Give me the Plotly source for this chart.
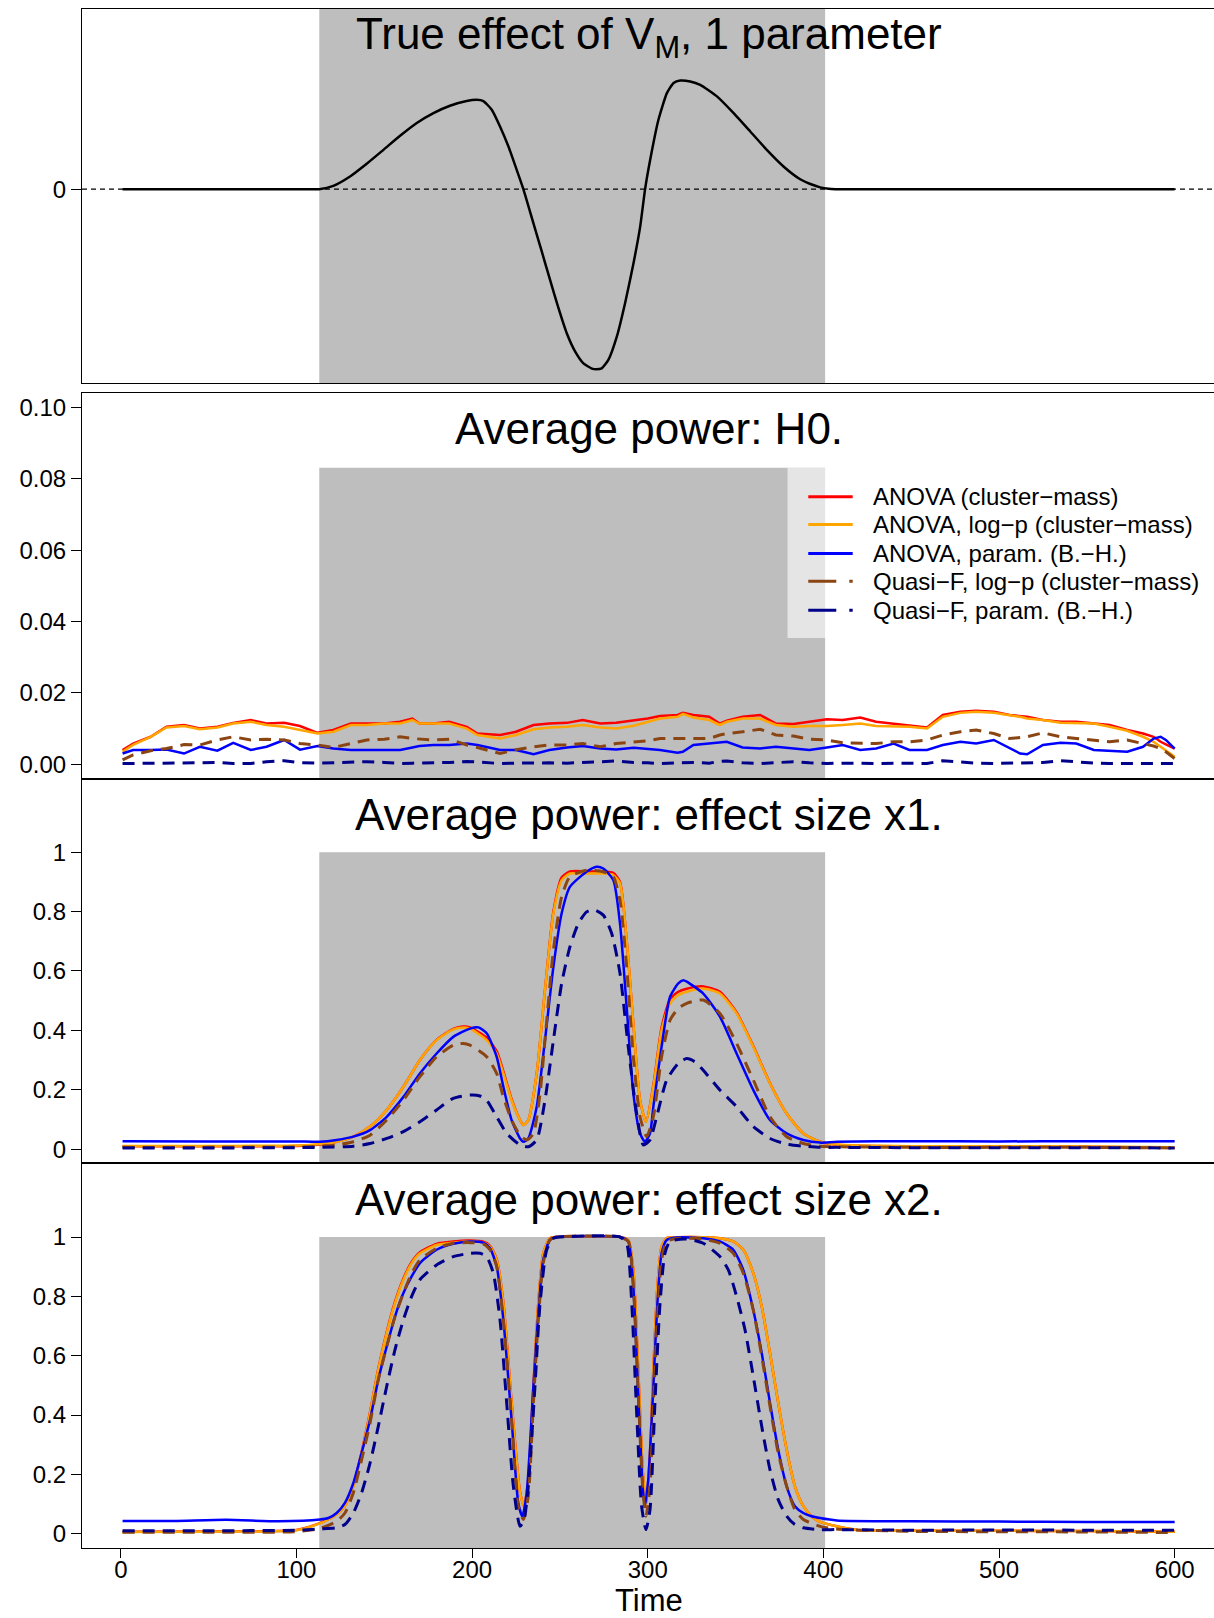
import plotly.graph_objects as go

FONT = "Liberation Sans, Arial, Helvetica, sans-serif"

# ---------------- data ----------------
SHADE = [113, 401]          # time window of the true effect

# Panel 1: true effect of V_M (arbitrary units, min = -1)
P1_T = [1, 50, 100, 113, 121, 130.5, 140, 149.5, 159, 168.5, 178, 187.4, 196.9, 202.6, 206.4, 211.2,
        215.9, 220.7, 225.4, 229.2, 234.9, 239.7, 244.4, 249.2, 253.9, 258.7, 263.4, 268.2, 270.6,
        273.8, 277.6, 282.4, 287.1, 291.9, 295.7, 298.5, 301.4, 306.1, 310.9, 314.7, 318.5, 324.2,
        329.9, 339.4, 348.9, 358.4, 367.8, 377.3, 386.8, 393, 398.2, 403, 407, 415, 450, 500, 600]
P1_V = [0, 0, 0, 0, 0.018, 0.070, 0.141, 0.218, 0.296, 0.367, 0.422, 0.463, 0.489, 0.496, 0.489, 0.441,
        0.348, 0.237, 0.107, 0, -0.189, -0.347, -0.504, -0.661, -0.8, -0.902, -0.967, -0.996, -1.0,
        -0.995, -0.948, -0.819, -0.633, -0.411, -0.208, 0, 0.163, 0.385, 0.533, 0.589, 0.603, 0.598,
        0.579, 0.515, 0.422, 0.32, 0.218, 0.126, 0.055, 0.027, 0.010, 0.002, 0, 0, 0, 0, 0]

# Panel 2: average power under H0
H0_T = [1, 7, 17, 26, 36, 45, 55, 64, 74, 83, 93, 102, 112, 121, 131, 140, 150, 159, 166, 170,
        178, 187, 197, 203, 216, 225, 235, 244, 254, 263, 273, 282, 292, 300, 307, 317, 320, 326, 335, 341,
        345, 354, 364, 373, 383, 392, 402, 411, 421, 430, 440, 449, 459, 468, 478, 487, 497, 506, 512, 516,
        525, 535, 544, 554, 563, 573, 582, 588, 592, 595, 600]
H0_RED = [0.0040, 0.0058, 0.0077, 0.0105, 0.0110, 0.0100, 0.0105, 0.0116, 0.0124, 0.0114,
          0.0116, 0.0107, 0.0088, 0.0096, 0.0114, 0.0114, 0.0114, 0.0119, 0.0128, 0.0114,
          0.0114, 0.0119, 0.0105, 0.0086, 0.0082, 0.0091, 0.0110, 0.0114, 0.0116, 0.0124,
          0.0114, 0.0116, 0.0122, 0.0128, 0.0135, 0.0138, 0.0144, 0.0138, 0.0133, 0.0114,
          0.0122, 0.0133, 0.0138, 0.0114, 0.0113, 0.0119, 0.0126, 0.0124, 0.0131, 0.0119,
          0.0114, 0.0110, 0.0103, 0.0138, 0.0147, 0.0150, 0.0147, 0.0138, 0.0135, 0.0133,
          0.0124, 0.0119, 0.0119, 0.0114, 0.0110, 0.0096, 0.0086, 0.0077, 0.0063, 0.0056, 0.0044]
H0_ORANGE = [0.0035, 0.0054, 0.0077, 0.0103, 0.0107, 0.0098, 0.0103, 0.0114, 0.0119, 0.0110,
             0.0105, 0.0096, 0.0086, 0.0091, 0.0110, 0.0110, 0.0114, 0.0114, 0.0124, 0.0114,
             0.0114, 0.0114, 0.0100, 0.0082, 0.0072, 0.0082, 0.0098, 0.0103, 0.0105, 0.0110,
             0.0103, 0.0100, 0.0108, 0.0118, 0.0128, 0.0133, 0.0141, 0.0131, 0.0124, 0.0110,
             0.0119, 0.0128, 0.0128, 0.0110, 0.0105, 0.0107, 0.0107, 0.0110, 0.0114, 0.0107,
             0.0105, 0.0105, 0.0100, 0.0133, 0.0144, 0.0147, 0.0144, 0.0138, 0.0133, 0.0128,
             0.0124, 0.0116, 0.0116, 0.0114, 0.0105, 0.0094, 0.0077, 0.0063, 0.0049, 0.0038, 0.0021]
H0_BLUE = [0.0030, 0.0040, 0.0040, 0.0041, 0.0030, 0.0049, 0.0038, 0.0060, 0.0040, 0.0049,
           0.0068, 0.0041, 0.0051, 0.0044, 0.0040, 0.0040, 0.0038, 0.0040, 0.0047, 0.0051,
           0.0054, 0.0054, 0.0058, 0.0054, 0.0040, 0.0040, 0.0028, 0.0040, 0.0047, 0.0051,
           0.0044, 0.0041, 0.0046, 0.0043, 0.0040, 0.0032, 0.0035, 0.0054, 0.0058, 0.0060,
           0.0063, 0.0047, 0.0044, 0.0049, 0.0044, 0.0040, 0.0047, 0.0054, 0.0040, 0.0044,
           0.0058, 0.0040, 0.0040, 0.0054, 0.0063, 0.0058, 0.0068, 0.0044, 0.0030, 0.0028,
           0.0054, 0.0060, 0.0058, 0.0040, 0.0038, 0.0035, 0.0049, 0.0072, 0.0077, 0.0068, 0.0044]
H0_BROWN = [0.0012, 0.0026, 0.0038, 0.0044, 0.0055, 0.0054, 0.0068, 0.0077, 0.0068, 0.0070,
            0.0068, 0.0058, 0.0054, 0.0047, 0.0058, 0.0068, 0.0070, 0.0077, 0.0072, 0.0070,
            0.0068, 0.0070, 0.0054, 0.0047, 0.0030, 0.0041, 0.0049, 0.0054, 0.0054, 0.0058,
            0.0049, 0.0058, 0.0063, 0.0066, 0.0072, 0.0072, 0.0070, 0.0070, 0.0072, 0.0082,
            0.0086, 0.0091, 0.0098, 0.0082, 0.0079, 0.0070, 0.0068, 0.0060, 0.0058, 0.0058,
            0.0063, 0.0063, 0.0068, 0.0082, 0.0091, 0.0096, 0.0086, 0.0072, 0.0075, 0.0077,
            0.0088, 0.0077, 0.0072, 0.0068, 0.0063, 0.0068, 0.0058, 0.0051, 0.0044, 0.0035, 0.0016]
H0_NAVY = [0.0002, 0.0002, 0.0003, 0.0002, 0.0003, 0.0004, 0.0005, 0.0002, 0.0002, 0.0007,
           0.0010, 0.0004, 0.0003, 0.0004, 0.0004, 0.0007, 0.0005, 0.0002, 0.0003, 0.0003,
           0.0004, 0.0005, 0.0008, 0.0006, 0.0002, 0.0003, 0.0004, 0.0004, 0.0003, 0.0004,
           0.0007, 0.0009, 0.0005, 0.0004, 0.0002, 0.0004, 0.0005, 0.0005, 0.0003, 0.0008,
           0.0009, 0.0004, 0.0002, 0.0004, 0.0007, 0.0004, 0.0002, 0.0003, 0.0002, 0.0002,
           0.0003, 0.0003, 0.0002, 0.0010, 0.0006, 0.0003, 0.0002, 0.0003, 0.0002, 0.0003,
           0.0005, 0.0010, 0.0006, 0.0003, 0.0002, 0.0002, 0.0003, 0.0002, 0.0002, 0.0002, 0.0002]

# Panel 3: effect size x1
X1_RED_T = [1, 50, 100, 113.4, 122.9, 132.4, 141.9, 151.4, 160.9, 170.3, 179.8, 189.3, 195.0, 198.8,
            208.3, 214.0, 217.8, 222.5, 227.3, 229.2, 232.0, 236.8, 241.5, 246.3, 251.0, 255.7, 265.2,
            274.7, 280.4, 284.2, 288.0, 291.8, 295.6, 299.0, 303.2, 307.9, 312.7, 317.4, 322.2, 331.6,
            341.1, 350.6, 360.1, 369.6, 379.1, 388.6, 398.1, 407.6, 450, 500, 550, 600]
X1_RED = [0.010, 0.010, 0.011, 0.016, 0.025, 0.042, 0.076, 0.132, 0.210, 0.300, 0.368, 0.405, 0.413, 0.410,
          0.375, 0.330, 0.262, 0.168, 0.098, 0.081, 0.098, 0.255, 0.536, 0.800, 0.915, 0.935, 0.935,
          0.935, 0.930, 0.900, 0.704, 0.423, 0.165, 0.092, 0.215, 0.410, 0.505, 0.530, 0.540, 0.548,
          0.530, 0.460, 0.347, 0.222, 0.120, 0.053, 0.025, 0.015, 0.009, 0.009, 0.008, 0.005]
X1_ORANGE_T = X1_RED_T
X1_ORANGE = [0.011, 0.011, 0.012, 0.017, 0.025, 0.042, 0.076, 0.132, 0.210, 0.300, 0.367, 0.403, 0.410, 0.406,
             0.367, 0.322, 0.255, 0.165, 0.098, 0.081, 0.098, 0.255, 0.536, 0.794, 0.906, 0.928, 0.928,
             0.928, 0.923, 0.895, 0.704, 0.423, 0.165, 0.092, 0.210, 0.401, 0.491, 0.519, 0.530, 0.541,
             0.524, 0.457, 0.345, 0.221, 0.120, 0.053, 0.025, 0.016, 0.010, 0.010, 0.009, 0.006]
X1_BLUE_T = [1, 50, 100, 113.4, 122.9, 132.4, 141.9, 151.4, 160.9, 170.3, 179.8, 189.3, 198.8, 203.6,
             208.3, 214.0, 217.8, 222.5, 227.3, 229.2, 232.0, 236.8, 241.5, 246.3, 251.0, 255.7, 265.2,
             270.9, 274.7, 280.4, 284.2, 288.0, 291.8, 295.6, 298.4, 301.3, 303.2, 307.9, 312.7, 317.4,
             320.3, 322.2, 331.6, 341.1, 350.6, 360.1, 369.6, 379.1, 388.6, 398.1, 407.6, 450, 500, 550, 600]
X1_BLUE = [0.027, 0.026, 0.026, 0.025, 0.031, 0.042, 0.064, 0.109, 0.176, 0.255, 0.322, 0.378, 0.406, 0.410,
           0.390, 0.311, 0.210, 0.098, 0.036, 0.025, 0.036, 0.143, 0.367, 0.614, 0.794, 0.883, 0.934,
           0.951, 0.945, 0.906, 0.760, 0.479, 0.188, 0.053, 0.025, 0.053, 0.143, 0.345, 0.513, 0.558,
           0.569, 0.564, 0.524, 0.446, 0.322, 0.199, 0.098, 0.053, 0.031, 0.022, 0.025, 0.027, 0.026, 0.027, 0.027]
X1_BROWN_T = [1, 50, 100, 113.4, 122.9, 132.4, 141.9, 151.4, 160.9, 170.3, 179.8, 189.3, 195.0, 198.8,
              208.3, 214.0, 217.8, 222.5, 227.3, 231.1, 234.9, 238.7, 241.5, 246.3, 251.0, 255.7, 265.2,
              274.7, 280.4, 284.2, 288.0, 291.8, 295.6, 299.4, 303.2, 307.9, 312.7, 317.4, 322.2, 331.6,
              341.1, 350.6, 360.1, 369.6, 379.1, 388.6, 398.1, 407.6, 450, 500, 550, 600]
X1_BROWN = [0.006, 0.006, 0.007, 0.010, 0.014, 0.025, 0.047, 0.098, 0.165, 0.244, 0.311, 0.350, 0.356, 0.350,
            0.311, 0.255, 0.176, 0.098, 0.047, 0.031, 0.053, 0.188, 0.367, 0.670, 0.850, 0.917, 0.939,
            0.934, 0.917, 0.838, 0.614, 0.311, 0.109, 0.042, 0.109, 0.311, 0.434, 0.474, 0.491, 0.502,
            0.457, 0.356, 0.233, 0.109, 0.042, 0.019, 0.010, 0.008, 0.006, 0.006, 0.006, 0.004]
X1_NAVY_T = [1, 50, 100, 113.4, 132.4, 141.9, 151.4, 160.9, 170.3, 179.8, 189.3, 198.8, 204.5, 208.3,
             214.0, 219.7, 227.3, 232.0, 236.8, 241.5, 246.3, 251.0, 255.7, 260.5, 265.2, 269.0, 274.7,
             279.5, 284.2, 288.9, 293.7, 297.5, 301.3, 305.1, 310.8, 317.4, 322.2, 326.9, 331.6, 341.1,
             350.6, 360.1, 369.6, 379.1, 388.6, 398.1, 407.6, 450, 500, 550, 600]
X1_NAVY = [0.004, 0.004, 0.005, 0.006, 0.010, 0.019, 0.036, 0.059, 0.092, 0.132, 0.171, 0.182, 0.179, 0.165,
           0.109, 0.053, 0.014, 0.008, 0.031, 0.165, 0.367, 0.558, 0.681, 0.760, 0.799, 0.807, 0.788,
           0.726, 0.592, 0.345, 0.120, 0.014, 0.031, 0.109, 0.233, 0.289, 0.305, 0.294, 0.266, 0.199,
           0.143, 0.076, 0.036, 0.017, 0.010, 0.006, 0.006, 0.005, 0.005, 0.005, 0.004]

# Panel 4: effect size x2
X2_ORANGE_T = [1, 50, 100, 113.4, 118.2, 122.9, 127.6, 132.4, 137.1, 141.9, 146.6, 151.4, 156.1, 160.9,
               165.6, 170.3, 179.8, 189.3, 198.8, 206.4, 210.2, 214.0, 217.8, 222.5, 227.3, 229.6, 232.0,
               234.9, 237.7, 240.5, 244.3, 248.1, 284.2, 288.9, 291.8, 294.6, 297.1, 299.0, 301.3, 303.2,
               305.5, 307.9, 310.8, 317.4, 331.6, 341.1, 348.7, 354.4, 360.1, 364.9, 369.6, 374.3, 379.1,
               383.8, 388.6, 393.3, 398.1, 407.6, 420, 450, 500, 550, 600]
X2_ORANGE = [0.006, 0.007, 0.012, 0.035, 0.048, 0.065, 0.093, 0.160, 0.272, 0.407, 0.553, 0.676, 0.777, 0.856,
             0.912, 0.945, 0.973, 0.981, 0.985, 0.981, 0.968, 0.923, 0.777, 0.441, 0.138, 0.093, 0.182,
             0.497, 0.777, 0.945, 0.996, 1.0, 1.0, 0.99, 0.889, 0.553, 0.216, 0.093, 0.272, 0.553,
             0.833, 0.968, 0.996, 0.999, 0.999, 0.996, 0.985, 0.957, 0.878, 0.766, 0.609, 0.441, 0.283,
             0.160, 0.093, 0.059, 0.040, 0.025, 0.012, 0.010, 0.010, 0.009, 0.007]
X2_RED_T = X2_ORANGE_T
X2_RED = [0.007, 0.008, 0.013, 0.036, 0.049, 0.066, 0.094, 0.162, 0.275, 0.410, 0.556, 0.680, 0.781, 0.860,
          0.916, 0.949, 0.977, 0.985, 0.988, 0.984, 0.970, 0.925, 0.780, 0.445, 0.140, 0.093, 0.182,
          0.497, 0.777, 0.945, 0.996, 1.0, 1.0, 0.99, 0.889, 0.553, 0.216, 0.093, 0.272, 0.553,
          0.833, 0.968, 0.996, 0.999, 0.999, 0.996, 0.985, 0.957, 0.878, 0.766, 0.609, 0.441, 0.283,
          0.160, 0.093, 0.059, 0.040, 0.025, 0.012, 0.010, 0.010, 0.009, 0.007]
X2_BLUE_T = [1, 30, 60, 90, 113.4, 118.2, 122.9, 127.6, 132.4, 137.1, 141.9, 146.6, 151.4, 156.1,
             160.9, 165.6, 170.3, 179.8, 189.3, 198.8, 206.4, 210.2, 214.0, 217.8, 222.5, 226.3, 228.6,
             231.1, 234.9, 237.7, 240.5, 244.3, 248.1, 284.2, 288.9, 291.8, 294.6, 297.1, 298.4, 300.3,
             303.2, 305.5, 307.9, 310.8, 317.4, 331.6, 341.1, 348.7, 354.4, 360.1, 364.9, 369.6, 374.3,
             379.1, 383.8, 388.6, 393.3, 398.1, 407.6, 450, 500, 550, 600]
X2_BLUE = [0.043, 0.043, 0.047, 0.042, 0.048, 0.053, 0.070, 0.104, 0.171, 0.272, 0.384, 0.519, 0.631, 0.732,
           0.811, 0.867, 0.912, 0.957, 0.977, 0.985, 0.981, 0.962, 0.901, 0.721, 0.384, 0.104, 0.059,
           0.138, 0.497, 0.743, 0.923, 0.990, 1.0, 1.0, 0.985, 0.833, 0.474, 0.160, 0.093, 0.182,
           0.497, 0.777, 0.945, 0.990, 0.999, 0.996, 0.985, 0.957, 0.889, 0.754, 0.609, 0.441, 0.283,
           0.160, 0.093, 0.070, 0.059, 0.053, 0.045, 0.042, 0.041, 0.040, 0.040]
X2_BROWN_T = [1, 50, 100, 113.4, 122.9, 127.6, 132.4, 137.1, 141.9, 146.6, 151.4, 156.1, 160.9, 165.6,
              170.3, 179.8, 189.3, 198.8, 206.4, 210.2, 214.0, 217.8, 222.5, 226.3, 229.2, 232.0, 234.9,
              237.7, 240.5, 244.3, 248.1, 284.2, 288.9, 291.8, 294.6, 297.1, 299.0, 301.3, 303.2, 305.5,
              307.9, 310.8, 317.4, 331.6, 341.1, 348.7, 354.4, 360.1, 364.9, 369.6, 374.3, 379.1, 383.8,
              388.6, 398.1, 407.6, 450, 500, 550, 600]
X2_BROWN = [0.005, 0.005, 0.007, 0.018, 0.042, 0.070, 0.138, 0.250, 0.373, 0.519, 0.631, 0.732, 0.811, 0.878,
            0.923, 0.962, 0.979, 0.981, 0.977, 0.957, 0.901, 0.721, 0.384, 0.093, 0.048, 0.127, 0.441,
            0.721, 0.912, 0.990, 1.0, 1.0, 0.985, 0.833, 0.474, 0.160, 0.059, 0.160, 0.441, 0.721,
            0.923, 0.985, 0.996, 0.993, 0.979, 0.945, 0.878, 0.754, 0.598, 0.430, 0.272, 0.160, 0.081,
            0.048, 0.025, 0.016, 0.008, 0.007, 0.006, 0.004]
X2_NAVY_T = [1, 50, 100, 113.4, 122.9, 127.6, 132.4, 137.1, 141.9, 146.6, 151.4, 156.1, 160.9, 165.6,
             170.3, 179.8, 189.3, 198.8, 204.5, 208.3, 212.1, 215.9, 219.7, 223.5, 227.3, 229.6, 232.0,
             235.8, 238.7, 242.5, 246.3, 250.0, 284.2, 288.0, 290.9, 293.7, 296.5, 299.0, 301.3, 304.1,
             307.0, 309.8, 312.7, 322.2, 331.6, 341.1, 345.9, 350.6, 355.4, 360.1, 364.9, 369.6, 374.3,
             379.1, 383.8, 388.6, 398.1, 407.6, 450, 500, 550, 600]
X2_NAVY = [0.010, 0.010, 0.012, 0.016, 0.020, 0.031, 0.070, 0.138, 0.238, 0.362, 0.497, 0.620, 0.721, 0.800,
           0.856, 0.906, 0.934, 0.945, 0.945, 0.934, 0.878, 0.721, 0.441, 0.160, 0.025, 0.048, 0.160,
           0.497, 0.777, 0.957, 0.996, 1.0, 1.0, 0.979, 0.777, 0.407, 0.093, 0.014, 0.081, 0.441,
           0.777, 0.945, 0.985, 0.993, 0.979, 0.934, 0.889, 0.800, 0.687, 0.530, 0.362, 0.216, 0.115,
           0.059, 0.031, 0.020, 0.014, 0.014, 0.012, 0.013, 0.012, 0.012]

SERIES_NAMES = ["ANOVA (cluster−mass)", "ANOVA, log−p (cluster−mass)", "ANOVA, param. (B.−H.)",
                "Quasi−F, log−p (cluster−mass)", "Quasi−F, param. (B.−H.)"]
SERIES_COLORS = ["#FF0000", "#FFA500", "#0000FF", "#8B4513", "#00008B"]
SERIES_DASH = ["solid", "solid", "solid", "12px,8px", "12px,8px"]
SERIES_WIDTH = [2.5, 2.5, 2.5, 3, 3]

PANEL_TITLES = ["True effect of V<sub>M</sub>, 1 parameter", "Average power: H0.",
                "Average power: effect size x1.", "Average power: effect size x2."]
X_TICKS = [0, 100, 200, 300, 400, 500, 600]
POWER_TICKS = [0, 0.2, 0.4, 0.6, 0.8, 1]
POWER_TICKTEXT = ["0", "0.2", "0.4", "0.6", "0.8", "1"]
H0_TICKS = [0, 0.02, 0.04, 0.06, 0.08, 0.10]

# ---------------- figure ----------------
XR = [-22.09, 622.4]
X_CENTER = 300.5
YR = {1: [-1.076, 1.0], 2: [-0.004, 0.104], 3: [-0.048, 1.248], 4: [-0.048, 1.248]}
DOMAINS = {1: [0.757, 1.0], 2: [0.5, 0.7503], 3: [0.2499, 0.5], 4: [0.0, 0.2499]}

fig = go.Figure()


def ax(k):
    return ("x" if k == 1 else f"x{k}"), ("y" if k == 1 else f"y{k}")


# panel 1
xa, ya = ax(1)
fig.add_trace(go.Scatter(x=P1_T, y=P1_V, mode="lines", xaxis=xa, yaxis=ya, showlegend=False,
                         line=dict(color="black", width=2.5, shape="spline", smoothing=0.5)))

panel_data = {
    2: [(H0_T, H0_RED), (H0_T, H0_ORANGE), (H0_T, H0_BLUE), (H0_T, H0_BROWN), (H0_T, H0_NAVY)],
    3: [(X1_RED_T, X1_RED), (X1_ORANGE_T, X1_ORANGE), (X1_BLUE_T, X1_BLUE), (X1_BROWN_T, X1_BROWN),
        (X1_NAVY_T, X1_NAVY)],
    4: [(X2_RED_T, X2_RED), (X2_ORANGE_T, X2_ORANGE), (X2_BLUE_T, X2_BLUE), (X2_BROWN_T, X2_BROWN),
        (X2_NAVY_T, X2_NAVY)],
}
for k, series in panel_data.items():
    xa, ya = ax(k)
    for i, (t, v) in enumerate(series):
        line = dict(color=SERIES_COLORS[i], width=SERIES_WIDTH[i], dash=SERIES_DASH[i])
        if k == 2:
            line["shape"] = "linear"
        else:
            line["shape"] = "spline"
            line["smoothing"] = 0.6
        fig.add_trace(go.Scatter(x=t, y=v, mode="lines", xaxis=xa, yaxis=ya, name=SERIES_NAMES[i],
                                 showlegend=False, line=line))

shapes = []
# shaded effect window
shade_top = {1: YR[1][1], 2: 0.0831, 3: 1.0, 4: 1.0}
for k in range(1, 5):
    xa, ya = ax(k)
    shapes.append(dict(type="rect", xref=xa, yref=ya, x0=SHADE[0], x1=SHADE[1], y0=YR[k][0],
                       y1=shade_top[k], fillcolor="#BEBEBE", line=dict(width=0), layer="below"))
# zero line in panel 1
shapes.append(dict(type="line", xref="x domain", yref="y", x0=0, x1=1, y0=0, y1=0,
                   line=dict(color="black", width=1.2, dash="5px,4px"), layer="above"))

# legend (panel 2 coordinates)
LEG_BOX = dict(x0=379.6, x1=622.4, y0=0.0354, y1=0.0831)
LEG_ROWS = [0.0750, 0.0672, 0.0591, 0.0513, 0.0432]
LEG_LINE_X = [391.4, 416.7]
LEG_TEXT_X = 427.0
shapes.append(dict(type="rect", xref="x2", yref="y2", **LEG_BOX, fillcolor="rgba(255,255,255,0.6)",
                   line=dict(width=0), layer="above"))
annotations = []
for i, yv in enumerate(LEG_ROWS):
    dash = "solid" if SERIES_DASH[i] == "solid" else "28px,13px"
    shapes.append(dict(type="line", xref="x2", yref="y2", x0=LEG_LINE_X[0], x1=LEG_LINE_X[1], y0=yv, y1=yv,
                       line=dict(color=SERIES_COLORS[i], width=3, dash=dash), layer="above"))
    annotations.append(dict(xref="x2", yref="y2", x=LEG_TEXT_X, y=yv, text=SERIES_NAMES[i],
                            xanchor="left", yanchor="middle", showarrow=False,
                            font=dict(family=FONT, size=24, color="black")))

# panel titles
TITLE_Y = {1: 0.845, 2: 0.0941, 3: 1.127, 4: 1.127}
for k in range(1, 5):
    xa, ya = ax(k)
    annotations.append(dict(xref=xa, yref=ya, x=X_CENTER, y=TITLE_Y[k], text=PANEL_TITLES[k - 1],
                            xanchor="center", yanchor="middle", showarrow=False,
                            font=dict(family=FONT, size=44, color="black")))

# x-axis title
annotations.append(dict(xref="x4", yref="paper", x=X_CENTER, y=-0.0338, text="Time",
                        xanchor="center", yanchor="middle", showarrow=False,
                        font=dict(family=FONT, size=31, color="black")))

layout = dict(
    width=1214, height=1618,
    margin=dict(l=82, r=0, t=9, b=70),
    paper_bgcolor="white", plot_bgcolor="white",
    font=dict(family=FONT, size=24, color="black"),
    showlegend=False,
    shapes=shapes, annotations=annotations,
)
for k in range(1, 5):
    xname = "xaxis" if k == 1 else f"xaxis{k}"
    yname = "yaxis" if k == 1 else f"yaxis{k}"
    xa, ya = ax(k)
    xaxis = dict(domain=[0, 1], anchor=ya, range=XR, showgrid=False, zeroline=False,
                 showline=True, mirror=True, linecolor="black", linewidth=1.1,
                 showticklabels=(k == 4), ticks="outside" if k == 4 else "",
                 tickvals=X_TICKS, ticklen=9, tickwidth=1.2, tickcolor="black",
                 ticklabelstandoff=-9,
                 tickfont=dict(family=FONT, size=24, color="black"))
    yaxis = dict(domain=DOMAINS[k], anchor=xa, range=YR[k], showgrid=False, zeroline=False,
                 showline=True, mirror=False, linecolor="black", linewidth=1.1,
                 ticks="outside", ticklen=10, tickwidth=1.2, tickcolor="black",
                 ticklabelstandoff=0,
                 tickfont=dict(family=FONT, size=24, color="black"))
    if k == 1:
        yaxis.update(tickvals=[0], ticktext=["0"])
    elif k == 2:
        yaxis.update(tickvals=H0_TICKS, tickformat=".2f")
    else:
        yaxis.update(tickvals=POWER_TICKS, ticktext=POWER_TICKTEXT)
    layout[xname] = xaxis
    layout[yname] = yaxis

fig.update_layout(**layout)
fig.write_html("out.html")
